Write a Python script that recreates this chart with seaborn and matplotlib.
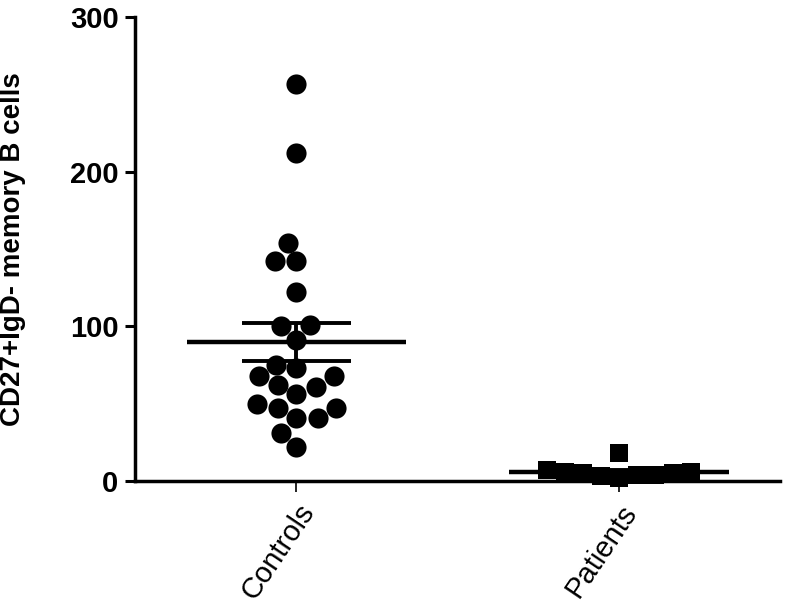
import numpy as np
import pandas as pd
import matplotlib
matplotlib.use("Agg")
import matplotlib.pyplot as plt
import seaborn as sns


# ======================================================
# DATA
# ======================================================

groups = ["Controls", "Patients"]

controls = [257, 212, 154, 142, 142, 122, 101, 100, 91, 75, 73, 68, 68,
            62, 61, 56, 50, 47, 47, 41, 41, 31, 22]
patients = [18, 7, 6, 6, 5, 5, 4, 4, 3, 2]

y_ticks = [0, 100, 200, 300]
y_label = "CD27+IgD- memory B cells"


# ======================================================
# STYLE
# ======================================================

sns.set_style("ticks", {
    "axes.edgecolor": "black",
    "axes.labelcolor": "black",
    "text.color": "black",
    "xtick.color": "black",
    "ytick.color": "black",
})
plt.rcParams["font.family"] = ["Liberation Sans", "DejaVu Sans"]

df = pd.DataFrame({
    "group": ["Controls"] * len(controls) + ["Patients"] * len(patients),
    "value": controls + patients,
})

fig = plt.figure(figsize=(7.86, 6.12), dpi=100)
ax = fig.add_axes([0.172, 0.214, 0.8206, 0.758])

# scatter of individual values
sns.swarmplot(data=df[df["group"] == "Controls"], x="group", y="value",
              order=groups, marker="o", color="black", size=14.5,
              linewidth=0, ax=ax, clip_on=False)
sns.swarmplot(data=df[df["group"] == "Patients"], x="group", y="value",
              order=groups, marker="s", color="black", size=12.5,
              linewidth=0, ax=ax, clip_on=False)

# mean with SEM
stats = df.groupby("group")["value"].agg(["mean", "sem"]).reindex(groups)
for i, g in enumerate(groups):
    m = stats.loc[g, "mean"]
    s = stats.loc[g, "sem"]
    ax.hlines(m, i - 0.34, i + 0.34, color="black", lw=3.2, zorder=5)
    ax.vlines(i, m - s, m + s, color="black", lw=2.8, zorder=5)
    ax.hlines([m - s, m + s], i - 0.17, i + 0.17, color="black", lw=2.8,
              zorder=5)

# ======================================================
# AXES
# ======================================================

ax.set_xlim(-0.5, 1.5)
ax.set_ylim(0, 300)
ax.set_yticks(y_ticks)
ax.set_yticklabels([str(t) for t in y_ticks], fontsize=21,
                   fontweight="bold")
ax.set_xticks(range(len(groups)))
ax.set_xticklabels(groups, fontsize=21, rotation=56, ha="right",
                   rotation_mode="anchor")
ax.set_xlabel("")
ax.set_ylabel(y_label, fontsize=20, fontweight="bold")
ax.yaxis.set_label_coords(-0.170, 0.5)

for side in ["top", "right"]:
    ax.spines[side].set_visible(False)
ax.spines["left"].set_linewidth(2.5)
ax.spines["bottom"].set_linewidth(2.5)
ax.tick_params(axis="y", length=7, width=2.2, pad=5)
ax.tick_params(axis="x", length=8, width=1.2, pad=5)

fig.savefig("out.png", dpi=100)
